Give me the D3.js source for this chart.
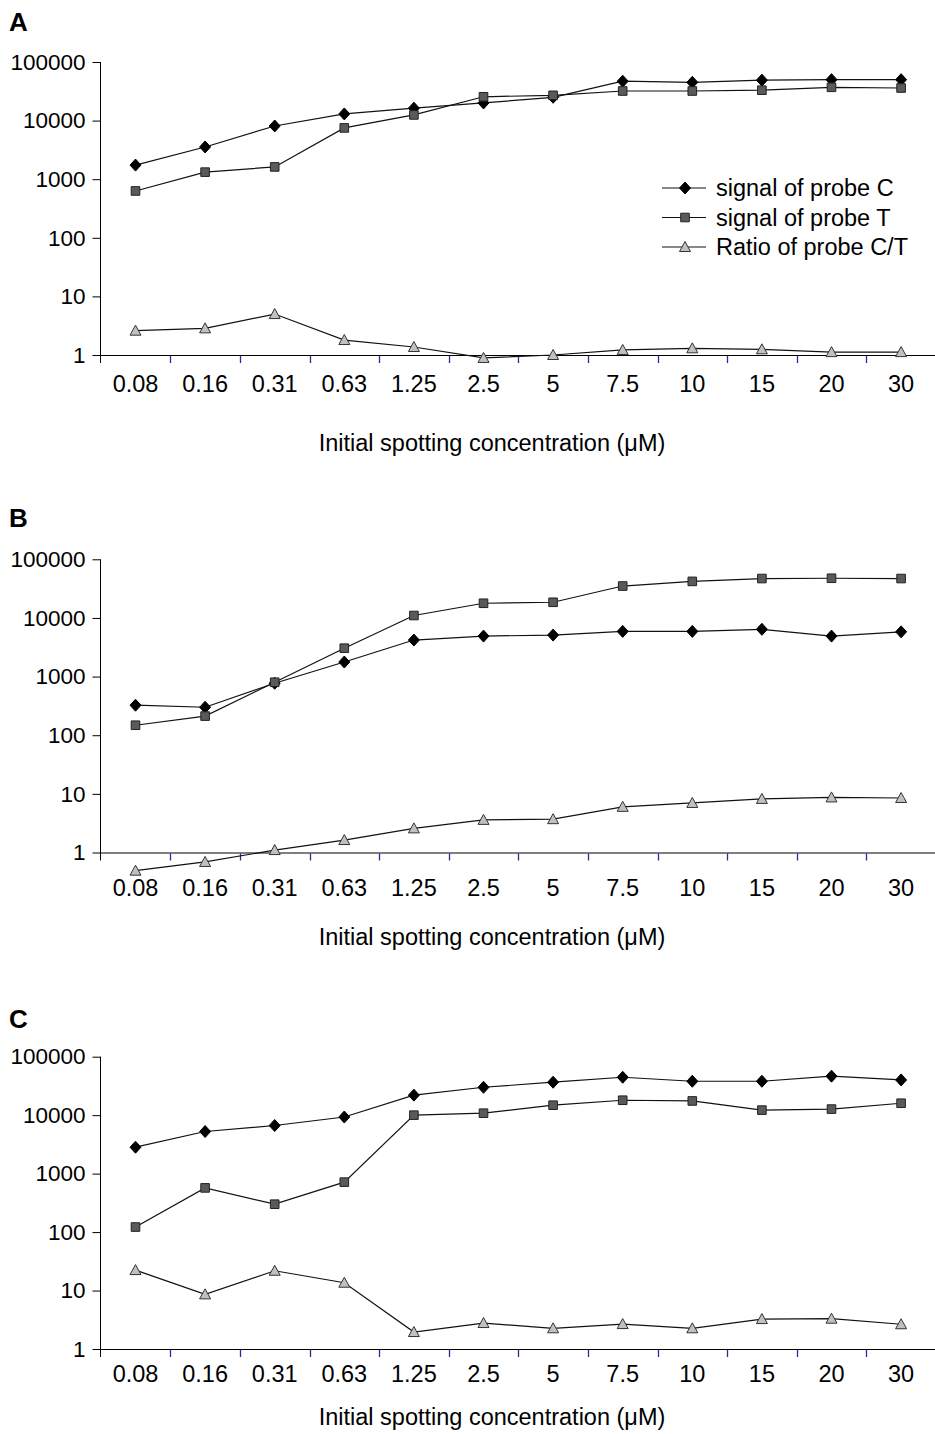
<!DOCTYPE html>
<html>
<head>
<meta charset="utf-8">
<script src="https://cdn.jsdelivr.net/npm/d3@7"></script>
<style>
  body { margin: 0; background: #fff; }
  text { font-family: 'Liberation Sans', Arial, sans-serif; fill: #000; }
</style>
</head>
<body>
<svg id="chart" width="935" height="1434"></svg>
<script>
// concentrations on the x axis (uM)
const concLabels = ['0.08', '0.16', '0.31', '0.63', '1.25', '2.5', '5', '7.5', '10', '15', '20', '30'];
const yTicks = [1, 10, 100, 1000, 10000, 100000];
const seriesNames = ['signal of probe C', 'signal of probe T', 'Ratio of probe C/T'];

// panel A
const aProbeC = [1740, 3550, 8100, 13000, 16300, 20000, 25000, 47000, 45000, 49000, 50000, 50000];
const aProbeT = [630, 1320, 1620, 7500, 12500, 25500, 27000, 32000, 32000, 33000, 37000, 36000];
const aRatio  = [2.6, 2.85, 5.0, 1.8, 1.37, 0.89, 1.0, 1.22, 1.3, 1.25, 1.12, 1.12];

// panel B
const bProbeC = [325, 300, 770, 1770, 4200, 4900, 5100, 5900, 5900, 6400, 4900, 5800];
const bProbeT = [148, 212, 800, 3050, 11000, 17800, 18500, 35000, 42000, 47000, 47500, 47000];
const bRatio  = [0.49, 0.69, 1.1, 1.63, 2.58, 3.6, 3.7, 6.0, 7.0, 8.2, 8.7, 8.5];

// panel C
const cProbeC = [2830, 5250, 6650, 9300, 22000, 30000, 36600, 44500, 38000, 38000, 46500, 40000];
const cProbeT = [122, 570, 300, 715, 10000, 10800, 14800, 18000, 17500, 12200, 12700, 16000];
const cRatio  = [22.4, 8.6, 21.8, 13.6, 1.95, 2.78, 2.26, 2.67, 2.26, 3.25, 3.3, 2.65];

const svg = d3.select('#chart');

// marker shapes
const diamond = 'M0,-6L5.5,0L0,6L-5.5,0Z';
const square = 'M-4.3,-4.3H4.3V4.3H-4.3Z';
const triangle = 'M0,-5.5L5.5,4.5L-5.5,4.5Z';
const markers = [
  {path: diamond, fill: '#000', stroke: '#000'},
  {path: square, fill: '#5a5a5a', stroke: '#222'},
  {path: triangle, fill: '#c0c0c0', stroke: '#333'}
];

function drawPanel(letter, series, top, axisY, letterY, labelY, titleY, legend) {
  let g = svg.append('g');
  let x = d3.scaleBand().domain(concLabels).range([100.7, 935.9]);
  let y = d3.scaleLog().domain([1, 100000]).range([axisY, top]);

  g.append('text')
    .text(letter)
    .attr('x', 9)
    .attr('y', letterY)
    .attr('font-size', 26)
    .attr('font-weight', 'bold');

  // y axis
  let yAxis = d3.axisLeft(y).tickValues(yTicks).tickFormat(d3.format('d')).tickSize(8).tickPadding(7);
  let ya = g.append('g').attr('transform', 'translate(100.5,0)').call(yAxis);
  ya.select('.domain').remove();
  ya.selectAll('line').attr('stroke', '#000');
  ya.selectAll('text').attr('font-size', 22.5).attr('font-family', "'Liberation Sans', Arial, sans-serif");
  g.append('line')
    .attr('x1', 100.5).attr('x2', 100.5)
    .attr('y1', top).attr('y2', axisY + 8)
    .attr('stroke', '#000');

  // x axis
  g.append('line')
    .attr('x1', 100).attr('x2', 935)
    .attr('y1', axisY + 0.5).attr('y2', axisY + 0.5)
    .attr('stroke', '#000');
  g.selectAll('.xtick')
    .data(concLabels.slice(1))
    .enter().append('line')
    .attr('class', 'xtick')
    .attr('x1', function(d) { return Math.round(x(d)) + 0.5; })
    .attr('x2', function(d) { return Math.round(x(d)) + 0.5; })
    .attr('y1', axisY + 1)
    .attr('y2', axisY + 8)
    .attr('stroke', '#2b2b9a')
    .attr('stroke-width', 1.3);
  g.selectAll('.xlabel')
    .data(concLabels)
    .enter().append('text')
    .attr('class', 'xlabel')
    .text(function(d) { return d; })
    .attr('x', function(d) { return x(d) + x.bandwidth() / 2; })
    .attr('y', labelY)
    .attr('text-anchor', 'middle')
    .attr('font-size', 23.5);

  g.append('text')
    .text('Initial spotting concentration (\u03bcM)')
    .attr('x', 492)
    .attr('y', titleY)
    .attr('text-anchor', 'middle')
    .attr('font-size', 23.5);

  let line = d3.line()
    .x(function(d, i) { return x(concLabels[i]) + x.bandwidth() / 2; })
    .y(function(d) { return y(d); });

  series.forEach(function(vals, k) {
    g.append('path')
      .attr('d', line(vals))
      .attr('fill', 'none')
      .attr('stroke', '#111')
      .attr('stroke-width', 1.2);
    g.selectAll('.m' + k)
      .data(vals)
      .enter().append('path')
      .attr('class', 'm' + k)
      .attr('d', markers[k].path)
      .attr('transform', function(d, i) {
        return 'translate(' + (x(concLabels[i]) + x.bandwidth() / 2) + ',' + y(d) + ')';
      })
      .attr('fill', markers[k].fill)
      .attr('stroke', markers[k].stroke)
      .attr('stroke-width', 1);
  });

  if (legend) {
    let ly = 188;
    seriesNames.forEach(function(name, k) {
      g.append('line')
        .attr('x1', 662).attr('x2', 706)
        .attr('y1', ly).attr('y2', ly)
        .attr('stroke', '#111')
        .attr('stroke-width', 1.2);
      g.append('path')
        .attr('d', markers[k].path)
        .attr('transform', 'translate(685,' + ly + ')')
        .attr('fill', markers[k].fill)
        .attr('stroke', markers[k].stroke);
      g.append('text')
        .text(name)
        .attr('x', 716)
        .attr('y', ly + 8)
        .attr('font-size', 23.5);
      ly += 29.5;
    });
  }
}

drawPanel('A', [aProbeC, aProbeT, aRatio], 62, 355, 31, 392, 451, true);
drawPanel('B', [bProbeC, bProbeT, bRatio], 559.3, 852.5, 527, 896, 945, false);
drawPanel('C', [cProbeC, cProbeT, cRatio], 1056.7, 1349, 1028, 1382, 1425, false);
</script>
</body>
</html>
